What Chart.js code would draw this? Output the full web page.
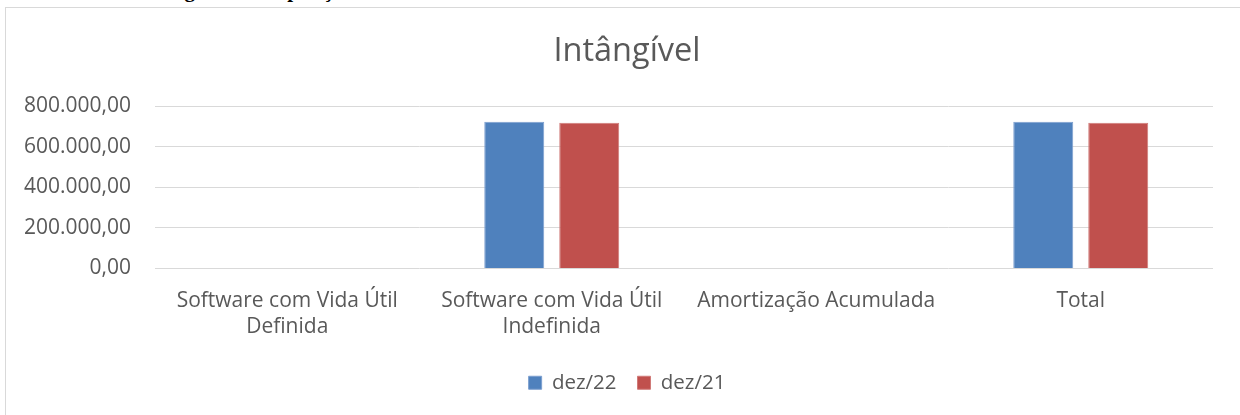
<!DOCTYPE html>
<html lang="pt-BR">
<head>
<meta charset="utf-8">
<title>Intângível</title>
<script src="https://cdn.jsdelivr.net/npm/chart.js@4.4.1/dist/chart.umd.min.js"></script>
<style>
  html, body { margin: 0; padding: 0; background: #fff; overflow: hidden; }
  body { width: 1240px; height: 415px; position: relative; }
  .doc-heading {
    position: absolute; left: 34px; top: -22px;
    font: bold 21px "Liberation Serif", "Times New Roman", serif; color: #000;
    white-space: nowrap;
  }
  .frame {
    position: absolute; left: 5px; top: 7px; width: 1260px; height: 420px;
    border: 1px solid #d9d9d9; box-sizing: border-box;
  }
  .frame canvas { position: absolute; left: 0; top: 0; }
</style>
</head>
<body>
<div class="doc-heading">Gráfico do Intangível - Composição</div>
<div class="frame">
  <canvas id="chart" width="1240" height="408"></canvas>
</div>
<script>
/* Intangível: composição dez/22 x dez/21 */

const categories = [
  ["Software com Vida Útil", "Definida"],
  ["Software com Vida Útil", "Indefinida"],
  "Amortização Acumulada",
  "Total",
];
const dez22 = [0, 723000, 0, 723000];
const dez21 = [0, 718000, 0, 718000];
const yTicks = [0, 200000, 400000, 600000, 800000];

const textColor = "#595959";
const fontFamily = '"Open Sans", "Noto Sans", sans-serif';

function formatBR(v) {
  const [int, dec] = Number(v).toFixed(2).split(".");
  return int.replace(/\B(?=(\d{3})+(?!\d))/g, ".") + "," + dec;
}

// title and legend sit centred on the whole frame, not on the plot area
const centerOnFrame = {
  id: "centerOnFrame",
  afterLayout(chart) {
    if (chart.legend) chart.legend.left += 35;
    if (chart.titleBlock) chart.titleBlock.left += 35;
  },
};

const ctx = document.getElementById("chart").getContext("2d");
new Chart(ctx, {
  type: "bar",
  data: {
    labels: categories,
    datasets: [
      {
        label: "dez/22",
        data: dez22,
        backgroundColor: "#4F81BD",
        borderColor: "#7C9FCF",
        borderWidth: 1,
        categoryPercentage: 0.567,
        barPercentage: 0.8,
      },
      {
        label: "dez/21",
        data: dez21,
        backgroundColor: "#C0504D",
        borderColor: "#D07A78",
        borderWidth: 1,
        categoryPercentage: 0.567,
        barPercentage: 0.8,
      },
    ],
  },
  plugins: [centerOnFrame],
  options: {
    responsive: false,
    animation: false,
    layout: { padding: { left: 0, right: 33, top: 0, bottom: 13 } },
    plugins: {
      title: {
        display: true,
        text: "Intângível",
        color: textColor,
        font: { family: fontFamily, size: 32.5, weight: "normal" },
        padding: { top: 24.5, bottom: 34.5 },
      },
      legend: {
        position: "bottom",
        labels: {
          color: textColor,
          font: { family: fontFamily, size: 20.5 },
          boxWidth: 13,
          boxHeight: 13,
          padding: 21,
        },
      },
      tooltip: { enabled: false },
    },
    scales: {
      x: {
        afterFit: (scale) => {
          scale.height = 83;
        },
        grid: { display: false, drawTicks: false },
        border: { display: false },
        ticks: {
          color: textColor,
          font: { family: fontFamily, size: 21, lineHeight: 1.24 },
          padding: 19,
          autoSkip: false,
          maxRotation: 0,
        },
      },
      y: {
        min: 0,
        max: 800000,
        afterBuildTicks: (scale) => {
          scale.ticks = yTicks.map((v) => ({ value: v }));
        },
        afterFit: (scale) => {
          scale.width = 149;
        },
        grid: { color: "#d9d9d9", lineWidth: 1, drawTicks: false },
        border: { display: false },
        ticks: {
          color: textColor,
          font: { family: fontFamily, size: 21 },
          padding: 24,
          callback: (v) => formatBR(v),
        },
      },
    },
  },
});
</script>
</body>
</html>
